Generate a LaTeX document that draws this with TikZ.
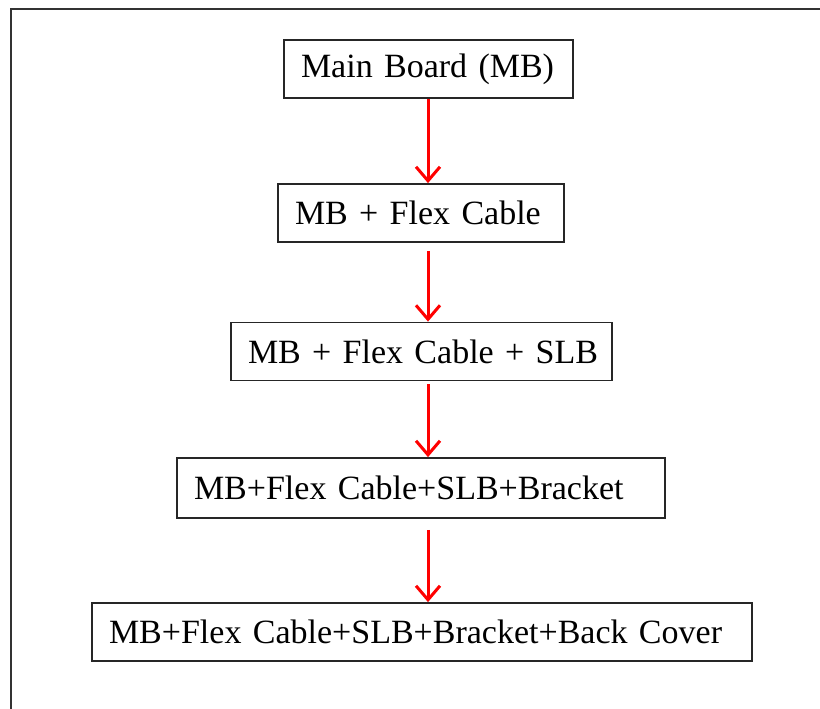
\documentclass[tikz,border=0pt]{standalone}
\usepackage{fontspec}
\setmainfont{Liberation Serif}
\usetikzlibrary{arrows.meta}

\begin{document}
\begin{tikzpicture}[x=1pt,y=-1pt,
        stage/.style={draw=black!85, line width=1.8pt, minimum height=58pt,
            inner xsep=17pt, inner ysep=4pt, align=left,
            font=\fontsize{34}{40}\selectfont},
        flow/.style={draw=red, line width=3pt,
            -{Straight Barb[length=14pt,width=24pt,line width=3pt]}}]
            % Define dimensions
            \def\pagewidth{820}
            \def\pageheight{709}
            \def\axisx{428}
            \useasboundingbox (0,0) rectangle (\pagewidth,\pageheight);
            \clip (0,0) rectangle (\pagewidth,\pageheight);
            % Outer frame (runs off at right and bottom)
            \draw[black!80, line width=2.2pt] (11,9) rectangle (\pagewidth+20,\pageheight+20);
            \coordinate (axis) at (\axisx,0);
            % Assembly stages
            \node[stage, text width=255pt] (mb) at (428.5,69) {\mbox{Main Board (MB)}};
            \node[stage, text width=252pt] (mbfc) at (421,213) {\mbox{MB + Flex Cable}};
            \node[stage, text width=347pt] (mbfcs) at (421.5,351.5) {\mbox{MB + Flex Cable + SLB}};
            \node[stage, text width=454pt, minimum height=60pt] (bracket) at (421,488) {\mbox{MB+Flex Cable+SLB+Bracket}};
            \node[stage, text width=626pt] (cover) at (422,632) {\mbox{MB+Flex Cable+SLB+Bracket+Back Cover}};
            % Red arrows down the axis
            \foreach \from/\to/\gap in {mb/mbfc/0, mbfc/mbfcs/8, mbfcs/bracket/3, bracket/cover/11}
                \draw[flow, shorten <=\gap pt] (\from.south -| axis) -- (\to.north -| axis);
        \end{tikzpicture}
\end{document}
